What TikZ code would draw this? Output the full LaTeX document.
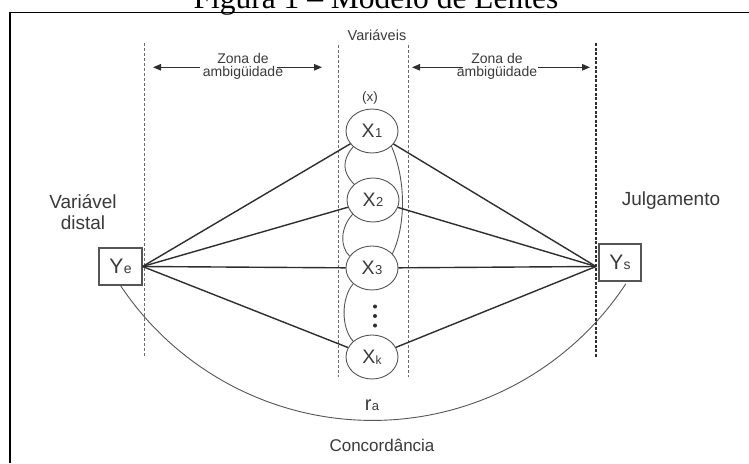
\documentclass[tikz,border=0pt]{standalone}
\usepackage{fontspec}
\setmainfont{Liberation Serif}
\newfontfamily\lsans{Liberation Sans}
\usetikzlibrary{shapes.geometric,arrows.meta}
\definecolor{txt}{HTML}{3A3A3A}
\definecolor{lin}{HTML}{2E2E2E}
\definecolor{dsh}{HTML}{6A6A6A}
\definecolor{shape}{HTML}{555555}
\begin{document}
\begin{tikzpicture}[x=1pt,y=-1pt,
  lbl/.style={font=\lsans\fontsize{14}{13}\selectfont, text=txt, inner sep=0pt, align=center},
  biglbl/.style={font=\lsans\fontsize{19}{21}\selectfont, text=txt, inner sep=0pt, align=center},
  var/.style={ellipse, draw=shape, line width=0.9pt, minimum width=52pt, minimum height=44pt, inner sep=0pt,
              font=\lsans\fontsize{19.5}{19.5}\selectfont, text=txt},
  ybox/.style={rectangle, draw=shape, line width=1.1pt, minimum height=37pt, inner sep=0pt,
              font=\lsans\fontsize{21}{21}\selectfont, text=txt},
  conn/.style={draw=lin, line width=1.4pt},
  corr/.style={draw=shape, line width=0.9pt},
  zone/.style={draw=dsh, line width=0.8pt, dash pattern=on 3pt off 2pt},
  zonedark/.style={draw=lin, line width=1.2pt, dash pattern=on 3pt off 1.5pt},
  zarrow/.style={draw=lin, line width=1.1pt, -{Triangle[length=8pt,width=6.5pt]}}
]
\useasboundingbox (0,0) rectangle (749,463);
\clip (0,0) rectangle (749,463);
\fill[white] (0,0) rectangle (749,463);

% title (cut off at the top) and frame
\node[anchor=base, inner sep=0pt, font=\fontsize{31.5}{32}\selectfont] (title) at (376,8.5) {Figura 1 -- Modelo de Lentes};
\draw[line width=1.3pt] (10,12.5) -- (749,12.5);
\draw[line width=2pt] (10,12) -- (10,463);

% zone borders
\draw[zone] (144,43) -- (144,357);
\draw[zone] (338,45) -- (338,377);
\draw[zone] (408,45) -- (408,377);
\draw[zonedark] (596,43) -- (596,358);

% labels at the top
\node[lbl, font=\lsans\fontsize{14.5}{14}\selectfont] (vars) at (377,35) {Variáveis};
\node[lbl] (zl) at (243,66.5) {Zona de\\ambigüidade};
\node[lbl] (zr) at (497,66.5) {Zona de\\ambigüidade};
\coordinate (zla) at (200,67.3); \coordinate (zlat) at (153,67.3);
\coordinate (zlb) at (277,67.3); \coordinate (zlbt) at (322,67.3);
\coordinate (zra) at (463,67.3); \coordinate (zrat) at (412,67.3);
\coordinate (zrb) at (538,67.3); \coordinate (zrbt) at (590,67.3);
\draw[zarrow] (zla) -- (zlat);
\draw[zarrow] (zlb) -- (zlbt);
\draw[zarrow] (zra) -- (zrat);
\draw[zarrow] (zrb) -- (zrbt);
\node[lbl, font=\lsans\fontsize{13.5}{13.5}\selectfont] (xlab) at (370,98) {(x)};

% cue variables
\node[var] (X1) at (372,131) {X\kern0.6pt{\fontsize{13}{13}\selectfont 1}};
\node[var] (X2) at (373,200) {X\kern0.6pt{\fontsize{13}{13}\selectfont 2}};
\node[var] (X3) at (372,268) {X\kern0.6pt{\fontsize{13}{13}\selectfont 3}};
\node[var] (Xk) at (372,357) {X\kern0.2pt\raisebox{-1pt}{\fontsize{12}{12}\selectfont k}};
\foreach \yy in {306.5,316,325.5} \fill[lin] (375,\yy) circle[radius=2pt];

% intercorrelations
\draw[corr] (X1.220) .. controls (342,160) and (342,172) .. (X2.140);
\draw[corr] (X1.-38) .. controls (406,180) and (406,225) .. (X3.35);
\draw[corr] (X2.215) .. controls (340,228) and (340,247) .. (X3.152);
\draw[corr] (X3.220) .. controls (341,298) and (341,328) .. (Xk.140);

% distal variable and judgement
\node[ybox, minimum width=43pt] (Ye) at (120.5,266.5) {Y\kern0.3pt{\fontsize{14}{14}\selectfont e}};
\node[ybox, minimum width=42pt] (Ys) at (620,262.5) {Y\kern0.3pt{\fontsize{14}{14}\selectfont s}};
\coordinate (yj) at (596,266.5);
\node[biglbl] (vd) at (83,212.5) {Variável\\distal};
\node[biglbl] (jul) at (671,201) {Julgamento};

% lens connectors
\foreach \n in {X1,X2,X3,Xk} {
  \draw[conn] (Ye.east) -- (\n);
  \draw[conn] (\n) -- (yj);
}

% achievement arc
\draw[corr] (Ye.south) arc[start angle=213.7, end angle=326.7, radius=303pt];
\node[inner sep=0pt, font=\lsans\fontsize{20}{20}\selectfont, text=txt] (ra) at (372,405) {r\kern0.3pt{\fontsize{13}{13}\selectfont a}};
\node[lbl, font=\lsans\fontsize{17}{17}\selectfont] (conc) at (382,445) {Concordância};
\end{tikzpicture}
\end{document}
